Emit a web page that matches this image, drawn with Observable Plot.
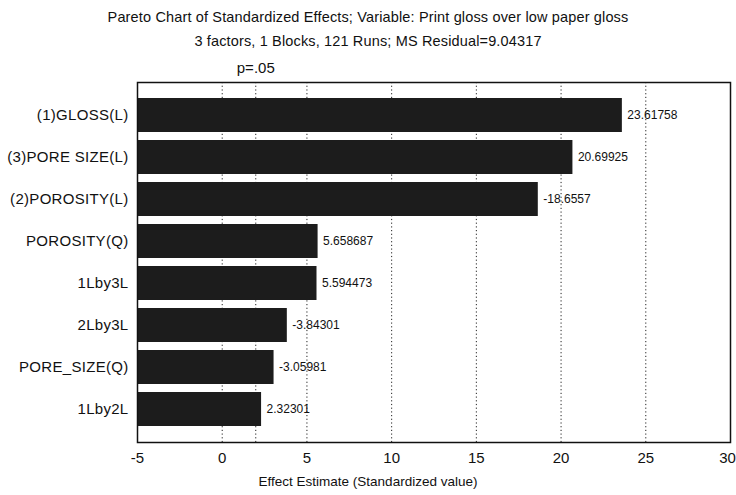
<!DOCTYPE html>
<html>
<head>
<meta charset="utf-8">
<script src="https://cdn.jsdelivr.net/npm/d3@7"></script>
<script src="https://cdn.jsdelivr.net/npm/@observablehq/plot@0.6"></script>
<style>
  body { margin: 0; background: #fff; font-family: Arial, "Liberation Sans", sans-serif; }
  #wrap { width: 736px; height: 495px; position: relative; overflow: hidden; }
  .title { width: 736px; text-align: center; font-size: 14.5px; letter-spacing: 0.15px; line-height: 24px; padding-top: 5px; color: #111; }
  .xlabel { width: 736px; text-align: center; font-size: 13.5px; line-height: 18px; color: #111; }
  svg text { fill: #111; }
  svg g[aria-label="y-axis tick label"] text { letter-spacing: 0.3px; }
</style>
</head>
<body>
<div id="wrap">
  <div class="title">
    <div>Pareto Chart of Standardized Effects; Variable: Print gloss over low paper gloss</div>
    <div>3 factors, 1 Blocks, 121 Runs; MS Residual=9.04317</div>
  </div>
  <div id="chart"></div>
  <div class="xlabel">Effect Estimate (Standardized value)</div>
</div>
<script>
const factors = ["(1)GLOSS(L)", "(3)PORE SIZE(L)", "(2)POROSITY(L)", "POROSITY(Q)", "1Lby3L", "2Lby3L", "PORE_SIZE(Q)", "1Lby2L"];
const effects = [23.61758, 20.69925, -18.6557, 5.658687, 5.594473, -3.84301, -3.05981, 2.32301];
const xTicks = [-5, 0, 5, 10, 15, 20, 25, 30];
const gridLines = [0, 5, 10, 15, 20, 25];
const pCritical = 1.98;
const pLabel = "p=.05";

const data = factors.map((f, i) => ({factor: f, effect: effects[i], abs: Math.abs(effects[i])}));
const lastTick = xTicks[xTicks.length - 1];

const chart = Plot.plot({
  width: 736,
  height: 420,
  marginTop: 29,
  marginBottom: 31,
  marginLeft: 137,
  marginRight: 6,
  style: {fontFamily: "Arial, 'Liberation Sans', sans-serif", background: "#fff", color: "#111"},
  x: {domain: [-5, 30], ticks: xTicks, tickSize: 0, tickPadding: 10, label: null, tickFormat: d => String(d)},
  y: {domain: factors, label: null, tickSize: 0, tickPadding: 9, paddingInner: 0.2, paddingOuter: 0.32},
  marks: [
    Plot.ruleX(gridLines, {stroke: "#222", strokeDasharray: "1.2,2.5", strokeWidth: 1}),
    Plot.ruleX([pCritical], {stroke: "#222", strokeDasharray: "1.2,2.5", strokeWidth: 1}),
    Plot.barX(data, {y: "factor", x1: -5, x2: "abs", fill: "#1c1c1c"}),
    Plot.text(data, {y: "factor", x: "abs", text: d => String(d.effect), textAnchor: "start", dx: 5, fontSize: 12}),
    Plot.text([pLabel], {x: pCritical, frameAnchor: "top", dy: -20, fontSize: 15, text: d => d}),
    Plot.frame({stroke: "#111", strokeWidth: 1.5}),
    Plot.axisX({ticks: xTicks.filter(t => t !== lastTick), tickSize: 0, tickPadding: 10, fontSize: 15, label: null, tickFormat: d => String(d)}),
    Plot.axisX({ticks: [lastTick], tickSize: 0, tickPadding: 10, fontSize: 15, label: null, dx: -3, tickFormat: d => String(d)}),
    Plot.axisY({tickSize: 0, tickPadding: 9, fontSize: 15, label: null})
  ]
});
document.getElementById("chart").appendChild(chart);
</script>
</body>
</html>
